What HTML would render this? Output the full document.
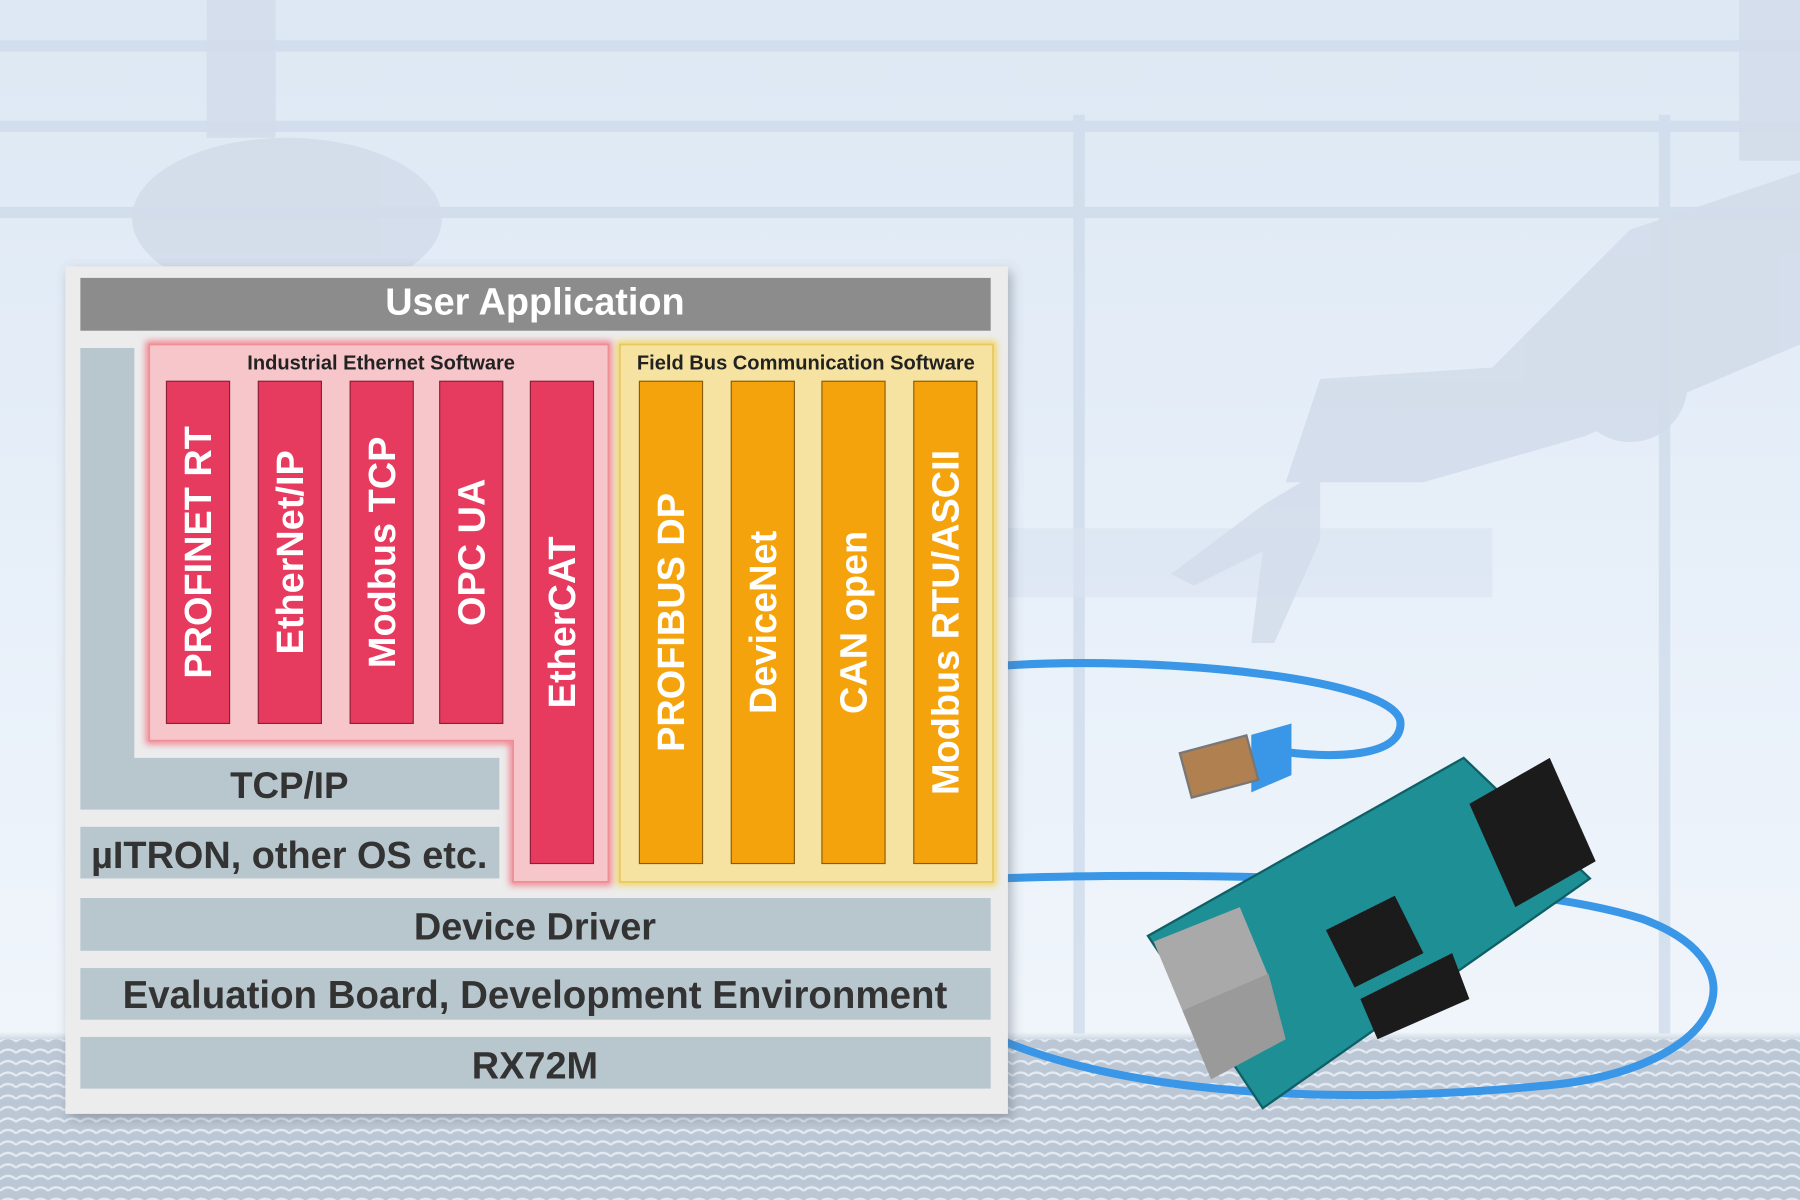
<!DOCTYPE html>
<html><head><meta charset="utf-8"><style>
html,body{margin:0;padding:0;width:1800px;height:1200px;overflow:hidden;background:#e4edf7}
svg{display:block}
text{font-family:"Liberation Sans",Arial,sans-serif;font-weight:bold}
</style></head><body>
<svg width="1800" height="1200" viewBox="0 0 1568 1045" preserveAspectRatio="none" xmlns="http://www.w3.org/2000/svg">
<defs>
<linearGradient id="bg" x1="0" y1="0" x2="0" y2="1">
<stop offset="0" stop-color="#dde8f4"/><stop offset="0.5" stop-color="#e8f0f9"/><stop offset="0.86" stop-color="#f0f5fb"/><stop offset="0.87" stop-color="#b9c5d4"/><stop offset="1" stop-color="#c3ccd8"/>
</linearGradient>
<pattern id="fl" width="14" height="10" patternUnits="userSpaceOnUse"><rect width="14" height="10" fill="#bcc7d5"/><path d="M0 7 Q7 1 14 7" stroke="#e4eaf2" stroke-width="2" fill="none"/></pattern>
<filter id="sh"><feDropShadow dx="3" dy="4" stdDeviation="5" flood-color="#5a6370" flood-opacity="0.45"/></filter>
<filter id="glowR"><feGaussianBlur stdDeviation="3"/></filter>
</defs>
<rect width="1568" height="1045" fill="url(#bg)"/>
<g stroke="#d0dcec" stroke-width="10" opacity="0.8">
<line x1="0" y1="40" x2="1568" y2="40"/><line x1="0" y1="110" x2="1568" y2="110"/><line x1="0" y1="185" x2="1568" y2="185"/>
<line x1="940" y1="100" x2="940" y2="900"/><line x1="1450" y1="100" x2="1450" y2="900"/>
</g>
<rect x="850" y="460" width="450" height="60" fill="#d8e3f0" opacity="0.6"/>
<rect x="0" y="905" width="1568" height="140" fill="url(#fl)"/>
<g fill="#d2dcea" opacity="0.85">
<rect x="180" y="0" width="60" height="120"/><ellipse cx="250" cy="190" rx="135" ry="70"/>
<rect x="1515" y="0" width="53" height="140"/>
<path d="M1568 150 L1420 200 L1300 320 L1150 330 L1120 420 L1240 420 L1380 380 L1568 300 Z"/>
<circle cx="1420" cy="335" r="50"/><circle cx="1200" cy="375" r="40"/>
<path d="M1150 410 L1100 440 L1020 500 L1040 510 L1100 480 L1090 560 L1110 560 L1150 470 Z"/>
</g>
<g fill="none" stroke="#3a96e6" stroke-width="7" stroke-linecap="round">
<path d="M870 580 C1000 570 1220 590 1220 630 C1220 660 1160 660 1120 655"/>
<path d="M870 765 C1000 760 1300 760 1430 800 C1540 840 1500 930 1350 945 C1200 960 1000 960 870 905"/>
</g>
<path d="M1090 640 L1125 630 L1125 675 L1090 690 Z" fill="#3a96e6"/>
<rect x="1032" y="648" width="60" height="40" fill="#b08050" stroke="#777" stroke-width="2" transform="rotate(-15 1060 668)"/>
<polygon points="1000,815 1275,660 1385,765 1100,965" fill="#1f8f96" stroke="#0f5f66" stroke-width="2"/>
<polygon points="1280,700 1350,660 1390,750 1320,790" fill="#1b1b1b"/>
<polygon points="1155,810 1215,780 1240,830 1180,860" fill="#1b1b1b"/>
<polygon points="1005,820 1080,790 1105,850 1030,880" fill="#a9a9a9"/>
<polygon points="1030,880 1105,848 1120,905 1055,940" fill="#9a9a9a"/>
<polygon points="1185,870 1265,830 1280,870 1200,905" fill="#1b1b1b"/>
<rect x="57" y="232" width="821" height="738" fill="#ececec" filter="url(#sh)"/>
<rect x="70" y="242" width="793" height="46" fill="#8c8c8c"/>
<text x="466" y="274" font-size="33" fill="#fff" text-anchor="middle">User Application</text>
<path d="M70 303 H117 V660 H435 V705 H70 Z" fill="#b8c7ce"/>
<rect x="70" y="720" width="365" height="45" fill="#b8c7ce"/>
<text x="252" y="695" font-size="32" fill="#333" text-anchor="middle">TCP/IP</text>
<text x="252" y="756" font-size="33" fill="#333" text-anchor="middle">µITRON, other OS etc.</text>
<rect x="70" y="782" width="793" height="46" fill="#b8c7ce"/>
<text x="466" y="818" font-size="33" fill="#333" text-anchor="middle">Device Driver</text>
<rect x="70" y="843" width="793" height="45" fill="#b8c7ce"/>
<text x="466" y="878" font-size="33.5" fill="#333" text-anchor="middle">Evaluation Board, Development Environment</text>
<rect x="70" y="903" width="793" height="45" fill="#b8c7ce"/>
<text x="466" y="939" font-size="33" fill="#333" text-anchor="middle">RX72M</text>
<path d="M130 300 H530 V768 H447 V645 H130 Z" fill="none" stroke="#f27e8a" stroke-width="6" filter="url(#glowR)"/>
<path d="M130 300 H530 V768 H447 V645 H130 Z" fill="#f6c6ca" stroke="#ee8f98" stroke-width="1.5"/>
<text x="332" y="322" font-size="17.5" fill="#222" text-anchor="middle">Industrial Ethernet Software</text>
<rect x="540" y="300" width="325" height="468" fill="none" stroke="#f3d45a" stroke-width="6" filter="url(#glowR)"/>
<rect x="540" y="300" width="325" height="468" fill="#f6e3a2" stroke="#e8c860" stroke-width="1.5"/>
<text x="702" y="322" font-size="17.5" fill="#222" text-anchor="middle">Field Bus Communication Software</text>
<g fill="#e63a5e" stroke="#8a2034" stroke-width="1">
<rect x="145" y="332" width="55" height="298"/><rect x="225" y="332" width="55" height="298"/>
<rect x="305" y="332" width="55" height="298"/><rect x="383" y="332" width="55" height="298"/>
<rect x="462" y="332" width="55" height="420"/>
</g>
<g fill="#f5a30c" stroke="#8a5a08" stroke-width="1">
<rect x="557" y="332" width="55" height="420"/><rect x="637" y="332" width="55" height="420"/>
<rect x="716" y="332" width="55" height="420"/><rect x="796" y="332" width="55" height="420"/>
</g>
<g font-size="33" fill="#fff" text-anchor="middle">
<text transform="translate(184 481) rotate(-90)">PROFINET RT</text>
<text transform="translate(264 481) rotate(-90)">EtherNet/IP</text>
<text transform="translate(344 481) rotate(-90)">Modbus TCP</text>
<text transform="translate(422 481) rotate(-90)">OPC UA</text>
<text transform="translate(501 542) rotate(-90)">EtherCAT</text>
<text transform="translate(596 542) rotate(-90)">PROFIBUS DP</text>
<text transform="translate(676 542) rotate(-90)">DeviceNet</text>
<text transform="translate(755 542) rotate(-90)">CAN open</text>
<text transform="translate(835 542) rotate(-90)">Modbus RTU/ASCII</text>
</g>
</svg>
</body></html>
